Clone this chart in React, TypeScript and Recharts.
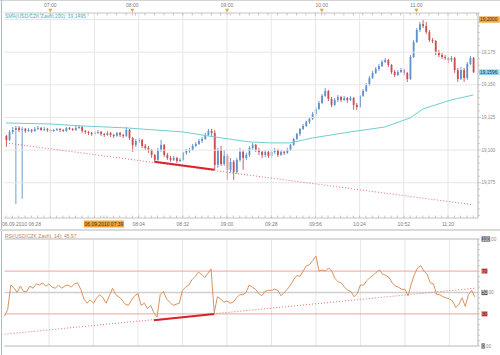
import React from "react";
import {
	ComposedChart,
	Bar,
	Line,
	XAxis,
	YAxis,
	ReferenceLine,
} from "recharts";

// USD/CZK, 2-minute bars, 06.09.2010 (index = bar number; slot 149 is left empty)
const opens = [
	19.1109, 19.1078, 19.1139, 19.1154, 19.117, 19.1154, 19.1162, 19.1147, 19.1154, 19.1147,
	19.1162, 19.117, 19.1154, 19.1162, 19.1154, 19.1147, 19.1154, 19.1162, 19.1154, 19.1147,
	19.117, 19.1162, 19.1154, 19.117, 19.1177, 19.1147, 19.1139, 19.1132, 19.1124, 19.1132,
	19.1139, 19.1124, 19.1116, 19.1132, 19.1116, 19.1109, 19.1132, 19.1116, 19.1109, 19.1154,
	19.1093, 19.104, 19.107, 19.1078, 19.1032, 19.1017, 19.1001, 19.0963, 19.0925, 19.1001,
	19.104, 19.0963, 19.094, 19.0925, 19.094, 19.0917, 19.0925, 19.0979, 19.0994, 19.1001,
	19.1032, 19.1047, 19.107, 19.1086, 19.1116, 19.1147, 19.1132, 19.0887, 19.1001, 19.0894,
	19.0956, 19.0849, 19.091, 19.0833, 19.0925, 19.0986, 19.094, 19.0963, 19.1017, 19.104,
	19.1001, 19.0986, 19.0963, 19.0986, 19.0956, 19.0986, 19.1001, 19.0963, 19.0986, 19.0979,
	19.1001, 19.104, 19.1086, 19.1124, 19.1162, 19.1185, 19.1216, 19.1239, 19.1277, 19.1315,
	19.1361, 19.1415, 19.1453, 19.1392, 19.1346, 19.1384, 19.1407, 19.1384, 19.1399, 19.1384,
	19.1399, 19.1346, 19.133, 19.1415, 19.1453, 19.1499, 19.1552, 19.1591, 19.1621, 19.1644,
	19.1675, 19.169, 19.1652, 19.1598, 19.1575, 19.1598, 19.1613, 19.1591, 19.1545, 19.1713,
	19.1828, 19.192, 19.1965, 19.195, 19.1904, 19.1843, 19.1835, 19.1751, 19.1728, 19.1713,
	19.1705, 19.169, 19.1705, 19.1613, 19.1545, 19.1613, 19.1552, 19.1659, 19.1705,
];

const highs = [
	19.1116, 19.1154, 19.1177, 19.1185, 19.1185, 19.1177, 19.117, 19.117, 19.1162, 19.1177,
	19.1185, 19.1177, 19.1177, 19.117, 19.1162, 19.1162, 19.117, 19.117, 19.1162, 19.1177,
	19.1177, 19.117, 19.1185, 19.1193, 19.1185, 19.1154, 19.1147, 19.1139, 19.1147, 19.1154,
	19.1147, 19.1132, 19.1147, 19.1139, 19.1124, 19.1139, 19.1139, 19.1124, 19.1177, 19.1162,
	19.1101, 19.1086, 19.1093, 19.1086, 19.1047, 19.1032, 19.1009, 19.0971, 19.1017, 19.1078,
	19.1047, 19.0979, 19.0956, 19.0956, 19.0948, 19.094, 19.0986, 19.1009, 19.1017, 19.1047,
	19.1063, 19.1086, 19.1101, 19.1132, 19.1162, 19.1162, 19.1154, 19.1017, 19.1032, 19.1001,
	19.0971, 19.094, 19.0925, 19.094, 19.1017, 19.1001, 19.0979, 19.1032, 19.1055, 19.1047,
	19.1017, 19.0994, 19.1001, 19.0994, 19.1001, 19.1017, 19.1009, 19.1001, 19.0994, 19.1017,
	19.1047, 19.1093, 19.1132, 19.117, 19.12, 19.1223, 19.1254, 19.1292, 19.133, 19.1376,
	19.143, 19.1476, 19.1461, 19.1407, 19.1399, 19.1422, 19.1415, 19.1415, 19.1407, 19.1415,
	19.1407, 19.1361, 19.1422, 19.1468, 19.1514, 19.1568, 19.1606, 19.1636, 19.1659, 19.169,
	19.1705, 19.1698, 19.1659, 19.1613, 19.1613, 19.1629, 19.1621, 19.1598, 19.1728, 19.1843,
	19.1935, 19.1981, 19.2, 19.1981, 19.192, 19.1858, 19.1843, 19.1767, 19.1744, 19.1728,
	19.1713, 19.1721, 19.1713, 19.1629, 19.1636, 19.1629, 19.1675, 19.1721, 19.1713,
];

const lows = [
	19.1024, 19.107, 19.1124, 19.0588, 19.1139, 19.0627, 19.1132, 19.1139, 19.1132, 19.1139,
	19.1154, 19.1147, 19.1147, 19.1139, 19.1132, 19.1139, 19.1147, 19.1139, 19.1139, 19.1139,
	19.1154, 19.1147, 19.1147, 19.1162, 19.1132, 19.1124, 19.1116, 19.1109, 19.1116, 19.1124,
	19.1109, 19.1101, 19.1109, 19.1101, 19.1093, 19.1101, 19.1101, 19.1093, 19.1101, 19.1078,
	19.0986, 19.1024, 19.1055, 19.1017, 19.1001, 19.0979, 19.094, 19.091, 19.0917, 19.0986,
	19.0948, 19.0925, 19.091, 19.0917, 19.0902, 19.091, 19.0917, 19.0963, 19.0979, 19.0994,
	19.1024, 19.104, 19.1055, 19.1078, 19.1109, 19.1109, 19.0849, 19.0864, 19.0879, 19.0879,
	19.0772, 19.0826, 19.0772, 19.0818, 19.091, 19.0849, 19.0925, 19.0948, 19.1001, 19.0986,
	19.0963, 19.094, 19.0948, 19.094, 19.094, 19.0971, 19.0948, 19.0956, 19.0963, 19.0971,
	19.0994, 19.1032, 19.1078, 19.1109, 19.1154, 19.1177, 19.12, 19.1231, 19.1262, 19.1308,
	19.1353, 19.1407, 19.1376, 19.133, 19.1338, 19.1369, 19.1369, 19.1376, 19.1361, 19.1376,
	19.1308, 19.1308, 19.1323, 19.1407, 19.1445, 19.1491, 19.1545, 19.1583, 19.1606, 19.1636,
	19.1667, 19.1636, 19.1583, 19.156, 19.1568, 19.1591, 19.1575, 19.1522, 19.1537, 19.1705,
	19.182, 19.1904, 19.1935, 19.1889, 19.1828, 19.182, 19.1728, 19.1713, 19.1698, 19.169,
	19.1667, 19.1675, 19.1591, 19.1522, 19.1537, 19.1522, 19.1537, 19.1652, 19.1591,
];

const closes = [
	19.1078, 19.1139, 19.1154, 19.117, 19.1154, 19.1162, 19.1147, 19.1154, 19.1147, 19.1162,
	19.117, 19.1154, 19.1162, 19.1154, 19.1147, 19.1154, 19.1162, 19.1154, 19.1147, 19.117,
	19.1162, 19.1154, 19.117, 19.1177, 19.1147, 19.1139, 19.1132, 19.1124, 19.1132, 19.1139,
	19.1124, 19.1116, 19.1132, 19.1116, 19.1109, 19.1132, 19.1116, 19.1109, 19.1154, 19.1093,
	19.104, 19.107, 19.1078, 19.1032, 19.1017, 19.1001, 19.0963, 19.0925, 19.1001, 19.104,
	19.0963, 19.094, 19.0925, 19.094, 19.0917, 19.0925, 19.0979, 19.0994, 19.1001, 19.1032,
	19.1047, 19.107, 19.1086, 19.1116, 19.1147, 19.1132, 19.0887, 19.1001, 19.0894, 19.0956,
	19.0849, 19.091, 19.0833, 19.0925, 19.0986, 19.094, 19.0963, 19.1017, 19.104, 19.1001,
	19.0986, 19.0963, 19.0986, 19.0956, 19.0986, 19.1001, 19.0963, 19.0986, 19.0979, 19.1001,
	19.104, 19.1086, 19.1124, 19.1162, 19.1185, 19.1216, 19.1239, 19.1277, 19.1315, 19.1361,
	19.1415, 19.1453, 19.1392, 19.1346, 19.1384, 19.1407, 19.1384, 19.1399, 19.1384, 19.1399,
	19.1346, 19.133, 19.1415, 19.1453, 19.1499, 19.1552, 19.1591, 19.1621, 19.1644, 19.1675,
	19.169, 19.1652, 19.1598, 19.1575, 19.1598, 19.1613, 19.1591, 19.1545, 19.1713, 19.1828,
	19.192, 19.1965, 19.195, 19.1904, 19.1843, 19.1835, 19.1751, 19.1728, 19.1713, 19.1705,
	19.169, 19.1705, 19.1613, 19.1545, 19.1613, 19.1552, 19.1659, 19.1705, 19.1596,
];

// SMA(200) read at a few bars
const smaIdx = [0, 14, 24, 38, 56, 66, 77, 84, 90, 97, 103, 109, 120, 128, 132, 141, 148];
const smaVals = [
	19.1208, 19.12, 19.1185, 19.117, 19.1139, 19.1101, 19.1063, 19.1055, 19.1055,
	19.1093, 19.1116, 19.1139, 19.1177, 19.1246, 19.1315, 19.1384, 19.1422,
];

// RSI(14)
const rsiVals = [
	28, 34, 57, 54, 50, 56, 51, 51, 56, 54,
	58, 57, 59, 56, 58, 55, 54, 57, 54, 56,
	57, 55, 58, 59, 53, 44, 40, 43, 40, 45,
	48, 45, 40, 47, 54, 48, 46, 43, 39, 38,
	43, 47, 49, 38, 40, 35, 38, 31, 27, 48,
	51, 44, 41, 38, 39, 40, 52, 55, 57, 62,
	65, 69, 67, 64, 68, 72, 31, 46, 44, 41,
	42, 40, 41, 45, 48, 48, 50, 57, 55, 53,
	49, 47, 51, 52, 52, 53, 52, 47, 50, 53,
	57, 62, 66, 65, 70, 75, 76, 80, 84, 70,
	71, 70, 73, 70, 63, 60, 59, 55, 52, 51,
	46, 49, 57, 57, 61, 64, 66, 69, 71, 67,
	66, 64, 59, 56, 55, 53, 53, 47, 58, 67,
	73, 75, 70, 67, 59, 58, 48, 48, 46, 45,
	44, 42, 36, 39, 45, 37, 48, 52, 45.97,
];

// hand-drawn lines (end points)
const trendIdx = [0, 148];
const trendVals = [19.1055, 19.0581];
const rsiTrendVals = [11, 54];
const divIdx = [47, 66];
const divVals = [19.091, 19.0849];
const rsiDivVals = [24, 30];

const topLabelIdx = [14, 40, 70, 100, 130];
const topLabels = ["07:00", "08:00", "09:00", "10:00", "11:00"];
const bottomLabelIdx = [0, 42, 56, 70, 84, 98, 112, 126, 140];
const bottomLabels = ["06.09.2010 06:28", "08:04", "08:32", "09:00", "09:28", "09:56", "10:24", "10:52", "11:20"];
const cursorIdx = 31;
const cursorLabel = "06.09.2010 07:39";
const gridIdx = [14, 28, 42, 56, 70, 84, 98, 112, 126, 140];
const priceGrid = [19.075, 19.1, 19.125, 19.15, 19.175, 19.2];
const priceLabels = [19.075, 19.1, 19.125, 19.15, 19.175];
const peakMark = 19.2;
const lastClose = 19.1596;

const N = 150;
const W = 500;
const AXIS_W = 22;
const PLOT_L = 4.5;
const X0 = W - AXIS_W;
const TOP_AX = 13;
const BOT_AX_Y = 218;

const UP = "#5f91cc";
const DOWN = "#cc4c50";
const FONT = "'Liberation Sans', Arial, sans-serif";

const rows = Array.from({ length: N }, (_, i) => {
	const has = i < closes.length;
	const si = smaIdx.indexOf(i);
	const ti = trendIdx.indexOf(i);
	const di = divIdx.indexOf(i);
	return {
		i,
		range: has ? [lows[i], highs[i]] : null,
		o: opens[i],
		h: highs[i],
		l: lows[i],
		c: closes[i],
		sma: si >= 0 ? smaVals[si] : null,
		trend: ti >= 0 ? trendVals[ti] : null,
		div: di >= 0 ? divVals[di] : null,
		rsi: has ? rsiVals[i] : null,
		rsiTrend: ti >= 0 ? rsiTrendVals[ti] : null,
		rsiDiv: di >= 0 ? rsiDivVals[di] : null,
	};
});

const topTicks = Array.from(new Set([...topLabelIdx, ...rows.filter((r) => r.i % 3 === 2).map((r) => r.i)])).sort((a, b) => a - b);
const bottomTicks = Array.from(new Set([...bottomLabelIdx, cursorIdx, ...rows.filter((r) => r.i % 2 === 0).map((r) => r.i)])).sort((a, b) => a - b);
const priceTicks = [...Array.from({ length: 32 }, (_, k) => (19050 + k * 5) / 1000), lastClose, peakMark];
const rsiTicks = Array.from({ length: 21 }, (_, k) => k * 5);

function Candle(props: any) {
	const { x, y, width, height, payload } = props;
	if (!payload || payload.range == null) return null;
	const { o, h, l, c } = payload;
	const top = Math.min(y, y + height);
	const span = Math.abs(height);
	const k = span / (h - l);
	const yo = top + (h - o) * k;
	const yc = top + (h - c) * k;
	const color = c >= o ? UP : DOWN;
	const cx = x + width / 2;
	return (
		<g>
			<line x1={cx} x2={cx} y1={top} y2={top + span} stroke={color} strokeWidth={0.9} />
			<rect x={x} y={Math.min(yo, yc)} width={width} height={Math.max(1, Math.abs(yc - yo))} fill={color} />
		</g>
	);
}

function TopTick(props: any) {
	const { x, payload } = props;
	const k = topLabelIdx.indexOf(payload.value);
	return (
		<g>
			<line x1={x} x2={x} y1={TOP_AX} y2={TOP_AX + 2.5} stroke="#b0b0b0" strokeWidth={0.7} />
			{k >= 0 && (
				<g>
					<text x={x} y={6.8} textAnchor="middle" fontSize={5} fill="#7a7a7a">
						{topLabels[k]}
					</text>
					<path d={`M${x - 2},8.8 L${x + 2},8.8 L${x},12.6 Z`} fill="#e9a43c" />
				</g>
			)}
		</g>
	);
}

function BottomTick(props: any) {
	const { x, payload } = props;
	const v = payload.value;
	const k = bottomLabelIdx.indexOf(v);
	return (
		<g>
			<line x1={x} x2={x} y1={BOT_AX_Y} y2={BOT_AX_Y - 2.5} stroke="#b0b0b0" strokeWidth={0.7} />
			{k >= 0 && (
				<text x={k === 0 ? 2 : x} y={226} textAnchor={k === 0 ? "start" : "middle"} fontSize={5} fill="#7a7a7a">
					{bottomLabels[k]}
				</text>
			)}
			{v === cursorIdx && (
				<g>
					<rect x={x - 20} y={220.5} width={40} height={7} fill="#f2a93b" />
					<text x={x} y={226} textAnchor="middle" fontSize={5} fill="#3a2a10">
						{cursorLabel}
					</text>
				</g>
			)}
		</g>
	);
}

function PriceTick(props: any) {
	const { y, payload } = props;
	const v = payload.value;
	if (v === peakMark || v === lastClose) {
		const fill = v === peakMark ? "#f3a73a" : "#8fd5ee";
		return (
			<g>
				<rect x={X0 + 1} y={y - 2.9} width={20.5} height={5.8} fill={fill} />
				<text x={X0 + 2} y={y + 1.8} fontSize={4.8} fill="#2f2f2f">
					{v.toFixed(4).replace(".", ",")}
				</text>
			</g>
		);
	}
	const major = priceLabels.some((p) => Math.abs(p - v) < 1e-6);
	return (
		<g>
			<line x1={X0} x2={X0 + (major ? 3 : 2)} y1={y} y2={y} stroke="#b0b0b0" strokeWidth={0.6} />
			{major && (
				<text x={X0 + 3.5} y={y + 1.6} fontSize={4.5} fill="#8a8a8a">
					{v.toFixed(3).replace(".", ",")}
				</text>
			)}
		</g>
	);
}

function RsiTick(props: any) {
	const { y, payload } = props;
	const v = payload.value;
	const grey = v === 0 || v === 50 || v === 100;
	const red = v === 30 || v === 70;
	const digits = String(v).length;
	return (
		<g>
			<line x1={X0} x2={X0 + 2} y1={y} y2={y} stroke="#b0b0b0" strokeWidth={0.6} />
			{grey && (
				<g>
					<rect x={X0 + 3.5} y={y - 2.6} width={digits * 2.6 + 0.8} height={5.2} fill="#5a5a5a" />
					<text x={X0 + 3.9} y={y + 1.7} fontSize={4.7} fill="#eeeeee">
						{v}
						<tspan fill="#8a8a8a">,00</tspan>
					</text>
				</g>
			)}
			{red && (
				<g>
					<rect x={X0 + 3.5} y={y - 2.6} width={6} height={5.2} fill="#e46a6a" />
					<text x={X0 + 3.9} y={y + 1.7} fontSize={4.7} fill="#5a0f0f">
						{v}
					</text>
				</g>
			)}
		</g>
	);
}

function PriceChart() {
	return (
		<ComposedChart
			width={W}
			height={230}
			data={rows}
			margin={{ top: 0, right: 0, bottom: 0, left: PLOT_L }}
			barCategoryGap={0}
		>
			<XAxis
				dataKey="i"
				height={12}
				ticks={bottomTicks}
				interval={0}
				tickLine={false}
				axisLine={{ stroke: "#c4c4c4" }}
				tick={<BottomTick />}
			/>
			<XAxis
				xAxisId="top"
				orientation="top"
				dataKey="i"
				height={TOP_AX}
				ticks={topTicks}
				interval={0}
				tickLine={false}
				axisLine={{ stroke: "#c4c4c4" }}
				tick={<TopTick />}
			/>
			<YAxis
				orientation="right"
				width={AXIS_W}
				domain={[19.048, 19.205]}
				allowDataOverflow
				ticks={priceTicks}
				interval={0}
				tickLine={false}
				axisLine={{ stroke: "#b4b4b4" }}
				tick={<PriceTick />}
			/>
			{gridIdx.map((g) => (
				<ReferenceLine key={`vx${g}`} x={g} stroke="#e6e6e6" strokeWidth={1} />
			))}
			{priceGrid.map((p) => (
				<ReferenceLine key={`hy${p}`} y={p} stroke="#e6e6e6" strokeWidth={1} />
			))}
			<Bar
				dataKey="range"
				barSize={1.8}
				isAnimationActive={false}
				shape={(p: any) => <Candle {...p} />}
			/>
			<Line
				dataKey="sma"
				stroke="#6fcfcf"
				strokeWidth={1}
				dot={false}
				activeDot={false}
				connectNulls
				isAnimationActive={false}
			/>
			<Line
				dataKey="trend"
				stroke="#e07070"
				strokeWidth={1}
				strokeDasharray="1 2"
				dot={false}
				activeDot={false}
				connectNulls
				isAnimationActive={false}
			/>
			<Line
				dataKey="div"
				stroke="#d8232a"
				strokeWidth={2}
				dot={false}
				activeDot={false}
				connectNulls
				isAnimationActive={false}
			/>
		</ComposedChart>
	);
}

function RsiChart() {
	return (
		<ComposedChart
			width={W}
			height={125}
			data={rows}
			margin={{ top: 9, right: 0, bottom: 9, left: PLOT_L }}
		>
			<XAxis dataKey="i" hide />
			<YAxis
				orientation="right"
				width={AXIS_W}
				domain={[0, 100]}
				ticks={rsiTicks}
				interval={0}
				tickLine={false}
				axisLine={{ stroke: "#b4b4b4" }}
				tick={<RsiTick />}
			/>
			{gridIdx.map((g) => (
				<ReferenceLine key={`rvx${g}`} x={g} stroke="#e6e6e6" strokeWidth={1} />
			))}
			{[100, 50, 0].map((v) => (
				<ReferenceLine key={`rg${v}`} y={v} stroke="#cfcfcf" strokeWidth={1.5} />
			))}
			{[70, 30].map((v) => (
				<ReferenceLine key={`rr${v}`} y={v} stroke="#f0a0a0" strokeWidth={1} />
			))}
			<Line
				dataKey="rsi"
				stroke="#d9925e"
				strokeWidth={1}
				dot={false}
				activeDot={false}
				isAnimationActive={false}
			/>
			<Line
				dataKey="rsiTrend"
				stroke="#e07070"
				strokeWidth={1}
				strokeDasharray="1 2"
				dot={false}
				activeDot={false}
				connectNulls
				isAnimationActive={false}
			/>
			<Line
				dataKey="rsiDiv"
				stroke="#d8232a"
				strokeWidth={2}
				dot={false}
				activeDot={false}
				connectNulls
				isAnimationActive={false}
			/>
		</ComposedChart>
	);
}

export default function App() {
	return (
		<div
			style={{
				position: "absolute",
				left: 0,
				top: 0,
				width: W,
				height: 355,
				background: "#fff",
				fontFamily: FONT,
				overflow: "hidden",
			}}
		>
			<div style={{ position: "absolute", left: 0, top: 0 }}>
				<PriceChart />
			</div>
			<div style={{ position: "absolute", left: 0, top: 230 }}>
				<RsiChart />
			</div>
			<div style={{ position: "absolute", left: 0, top: 0, width: W, height: 1, background: "#d4d4d4" }} />
			<div style={{ position: "absolute", left: 1, top: 0, width: 1.2, height: 355, background: "#a9b9d8" }} />
			<div style={{ position: "absolute", left: 0, top: 229, width: W, height: 2, background: "#dadada" }} />
			<div style={{ position: "absolute", left: 5, top: 13.5, fontSize: 5, lineHeight: "5px", color: "#3fb3c4", whiteSpace: "nowrap" }}>
				SMA(USD/CZK Zavřít,200): 19,1495
			</div>
			<div style={{ position: "absolute", left: 5, top: 233.5, fontSize: 5, lineHeight: "5px", color: "#c0825a", whiteSpace: "nowrap" }}>
				RSI(USD/CZK Zavřít, 14): 45,97
			</div>
		</div>
	);
}
